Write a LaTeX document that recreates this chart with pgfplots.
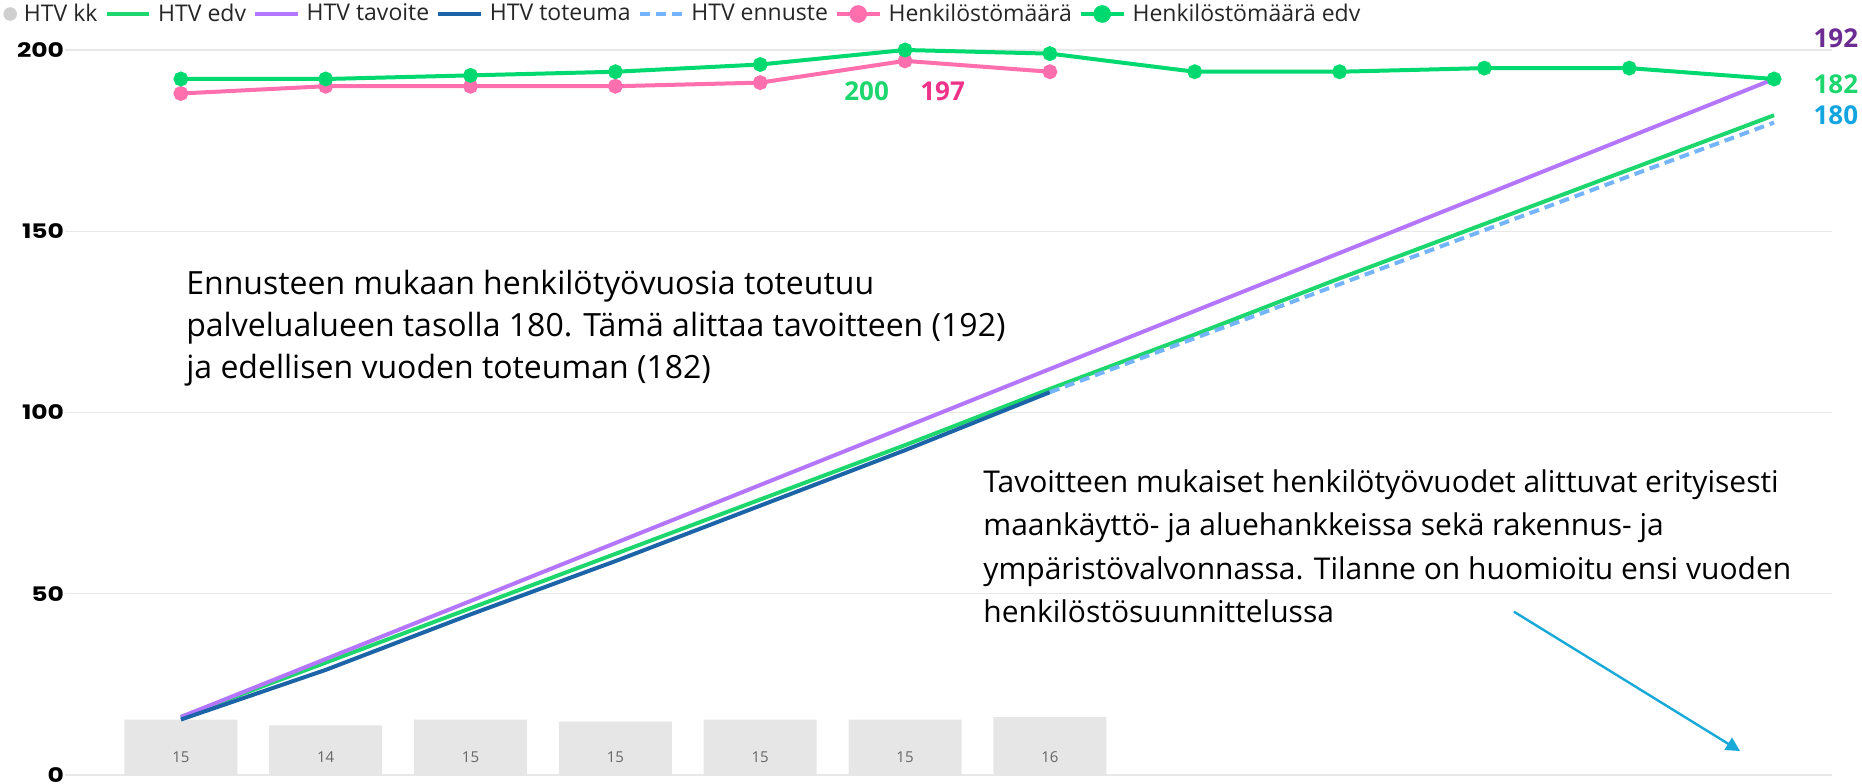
\documentclass[border=0pt]{standalone}
\usepackage{fontspec}
\setmainfont{Open Sans}
\newfontfamily\tickfont[FakeStretch=1.25]{Poppins}
\usepackage{pgfplots}
\pgfplotsset{compat=1.18}
\usetikzlibrary{arrows.meta}
\definecolor{barc}{HTML}{E6E6E6}
\definecolor{edv}{HTML}{1ED66E}
\definecolor{tav}{HTML}{B476FF}
\definecolor{tot}{HTML}{1C64A8}
\definecolor{enn}{HTML}{74B4FA}
\definecolor{hen}{HTML}{FF6FAE}
\definecolor{henedv}{HTML}{00D96F}
\definecolor{lab197}{HTML}{F0338A}
\definecolor{lab192}{HTML}{6C2C91}
\definecolor{lab180}{HTML}{14A5E0}
\definecolor{arr}{HTML}{19A9D8}
\pgfplotsset{legend image code/.code={\draw[#1] (0cm,0cm) -- (0.75cm,0cm);}}
\begin{document}
\begin{tikzpicture}
\begin{axis}[
  scale only axis, width=883.5pt, height=362.5pt,
  xmin=-0.8, xmax=11.4, ymin=0, ymax=200,
  axis line style={draw=none}, tick style={draw=none}, clip=false,
  ytick={0,50,100,150,200}, xtick=\empty,
  ymajorgrids, grid style={draw=black!9, line width=0.6pt},
  yticklabel style={font=\tickfont\bfseries\fontsize{10}{12}\selectfont, inner sep=0pt, xshift=-0.3pt},
  /pgf/number format/assume math mode=true,
  legend columns=-1,
  legend style={at={(axis description cs:0,1)}, anchor=west, xshift=-31pt, yshift=18pt,
    draw=none, fill=none, font=\fontsize{11.5}{13}\selectfont\color{black!85},
    column sep=1.5pt, inner sep=0pt},
]
% HTV kk bars
\addplot[ybar, bar width=0.78, fill=barc, draw=none,
  legend image code/.code={\fill[barc!90!black] (0.12cm,0) circle (3.4pt);}]
  coordinates {(0,15.3) (1,13.7) (2,15.3) (3,14.7) (4,15.3) (5,15.3) (6,16.0)};
\addlegendentry{HTV kk}
% HTV edv
\addplot[edv, line width=2pt, no markers] coordinates {
  (0,16) (1,31) (2,46) (3,61) (4,76) (5,91) (6,106.5) (7,121.5) (8,137) (9,152) (10,167) (11,182)};
\addlegendentry{HTV edv}
% HTV tavoite
\addplot[tav, line width=2pt, no markers] coordinates {
  (0,16) (1,32) (2,48) (3,64) (4,80) (5,96) (6,112) (7,128) (8,144) (9,160) (10,176) (11,192)};
\addlegendentry{HTV tavoite}
% HTV toteuma
\addplot[tot, line width=2pt, no markers] coordinates {
  (0,15.3) (1,29.0) (2,44.3) (3,59.0) (4,74.3) (5,89.6) (6,105.6)};
\addlegendentry{HTV toteuma}
% HTV ennuste
\addplot[enn, line width=2pt, dash pattern=on 5pt off 3pt, no markers] coordinates {
  (6,105.6) (7,120.5) (8,135.4) (9,150.3) (10,165.2) (11,180)};
\addlegendentry{HTV ennuste}
% Henkilostomaara
\addplot[hen, line width=2pt, mark=*, mark size=2.7pt, mark options={fill=hen, draw=hen, solid},
  legend image code/.code={\draw[hen, line width=2pt] (0cm,0cm) -- (0.75cm,0cm); \fill[hen] (0.375cm,0) circle (3.4pt);}] coordinates {
  (0,188) (1,190) (2,190) (3,190) (4,191) (5,197) (6,194)};
\addlegendentry{Henkilöstömäärä}
% Henkilostomaara edv
\addplot[henedv, line width=2pt, mark=*, mark size=2.7pt, mark options={fill=henedv, draw=henedv, solid},
  legend image code/.code={\draw[henedv, line width=2pt] (0cm,0cm) -- (0.75cm,0cm); \fill[henedv] (0.375cm,0) circle (3.4pt);}] coordinates {
  (0,192) (1,192) (2,193) (3,194) (4,196) (5,200) (6,199) (7,194) (8,194) (9,195) (10,195) (11,192)};
\addlegendentry{Henkilöstömäärä edv}
% bar labels
\addplot[draw=none, forget plot, nodes near coords, point meta=explicit symbolic,
  nodes near coords style={anchor=center, font=\fontsize{7.5}{9}\selectfont, text=black!60}]
  coordinates {(0,5)[15] (1,5)[14] (2,5)[15] (3,5)[15] (4,5)[15] (5,5)[15] (6,5)[16]};
% data labels
\node[anchor=west, inner sep=0pt, text=edv, font=\bfseries\fontsize{13}{15}\selectfont] at (axis cs:4.578,188.5) {200};
\node[anchor=west, inner sep=0pt, text=lab197, font=\bfseries\fontsize{13}{15}\selectfont] at (axis cs:5.103,188.5) {197};
\node[anchor=west, inner sep=0pt, text=lab192, font=\bfseries\fontsize{13}{15}\selectfont] at (axis cs:11.27,203.3) {192};
\node[anchor=west, inner sep=0pt, text=edv, font=\bfseries\fontsize{13}{15}\selectfont] at (axis cs:11.27,190.5) {182};
\node[anchor=west, inner sep=0pt, text=lab180, font=\bfseries\fontsize{13}{15}\selectfont] at (axis cs:11.27,182.1) {180};
% annotations
\node[anchor=north west, inner sep=0pt, align=left, font=\fontsize{16}{21}\selectfont] at (axis cs:0.035,139.3)
  {Ennusteen mukaan henkilötyövuosia toteutuu\\palvelualueen tasolla 180. Tämä alittaa tavoitteen (192)\\ja edellisen vuoden toteuman (182)};
\node[anchor=north west, inner sep=0pt, align=left, font=\fontsize{15}{21.6}\selectfont] at (axis cs:5.538,84.3)
  {Tavoitteen mukaiset henkilötyövuodet alittuvat erityisesti\\maankäyttö- ja aluehankkeissa sekä rakennus- ja\\ympäristövalvonnassa. Tilanne on huomioitu ensi vuoden\\henkilöstösuunnittelussa};
\draw[arr, line width=1.2pt, -{Triangle[length=7pt, width=7pt]}] (axis cs:9.204,45.05) -- (axis cs:10.765,6.6);
\end{axis}
\pgfresetboundingbox
\path (-32.5pt,-4pt) rectangle (898.5pt,387.5pt);
\end{tikzpicture}
\end{document}
